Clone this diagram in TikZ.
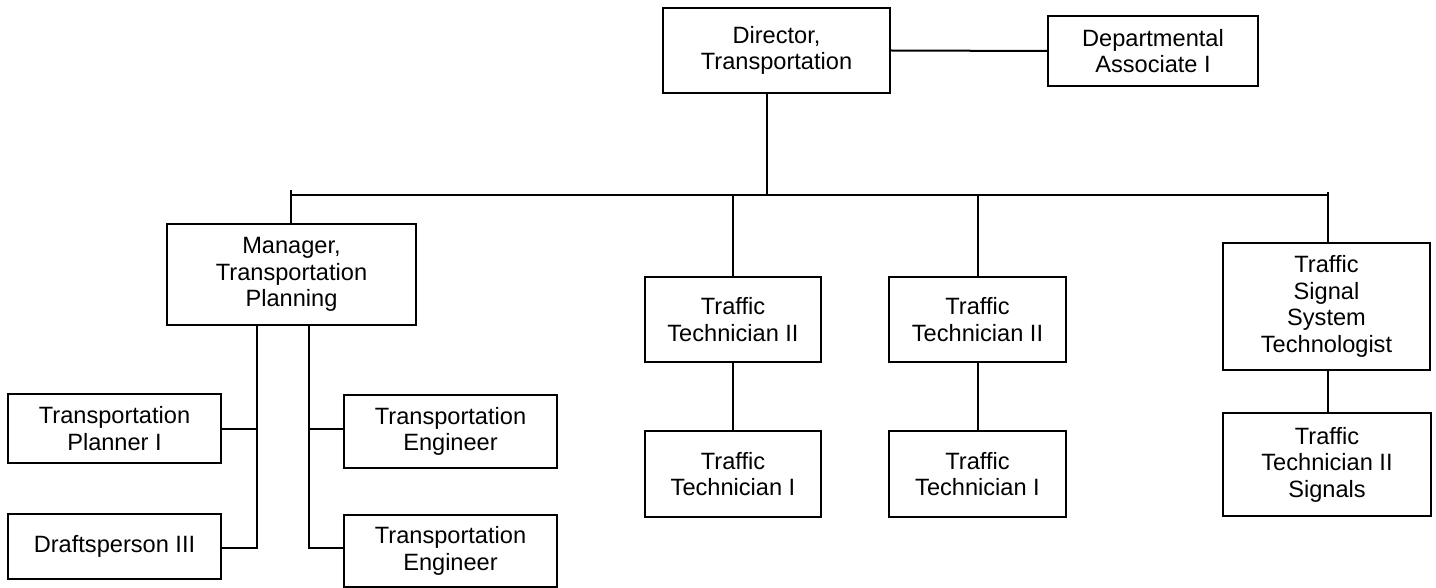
\documentclass[tikz,border=0pt]{standalone}
\usepackage{fontspec}
\setmainfont{Liberation Sans}
\begin{document}
\begin{tikzpicture}[x=0.5pt,y=-0.5pt,
  box/.style={draw=black, line width=1pt, fill=white, align=center, inner sep=0pt,
    font=\fontsize{11.8}{13.3}\selectfont},
  link/.style={draw=black, line width=1pt}]
\useasboundingbox[fill=white] (0,0) rectangle (1436,588);
% boxes
\node[box, minimum width=113.5pt, minimum height=42.5pt] (dir) at (776.5,50.5) {Director,\\Transportation};
\node[box, minimum width=105pt, minimum height=35pt] (dept) at (1153,51) {Departmental\\Associate I};
\node[box, minimum width=124.5pt, minimum height=50.5pt] (mgr) at (291.5,274.5) {Manager,\\Transportation\\Planning};
\node[box, minimum width=88pt, minimum height=42.5pt] (tt2a) at (733,319.5) {Traffic\\Technician II};
\node[box, minimum width=88.5pt, minimum height=42.5pt] (tt2b) at (977.5,319.5) {Traffic\\Technician II};
\node[box, minimum width=88pt, minimum height=43pt] (tt1a) at (733,474) {Traffic\\Technician I};
\node[box, minimum width=88.5pt, minimum height=43pt] (tt1b) at (977.5,474) {Traffic\\Technician I};
\node[box, minimum width=103.5pt, minimum height=63.5pt] (tsst) at (1326.5,306.5) {Traffic\\Signal\\System\\Technologist};
\node[box, minimum width=104pt, minimum height=51.5pt] (tt2s) at (1327,464.5) {Traffic\\Technician II\\Signals};
\node[box, minimum width=106.5pt, minimum height=34.5pt] (plan) at (114.5,428.5) {Transportation\\Planner I};
\node[box, minimum width=106.5pt, minimum height=32.5pt] (draft) at (114.5,546.5) {\raisebox{3pt}{Draftsperson III}};
\node[box, minimum width=106.5pt, minimum height=36.5pt] (eng1) at (450.5,431.5) {Transportation\\Engineer};
\node[box, minimum width=106.5pt, minimum height=36pt] (eng2) at (450.5,551) {Transportation\\Engineer};
% helper coordinates
\coordinate (tickL) at (291,190);
\coordinate (busL) at (291,195);
\coordinate (busR) at (1328,195);
\coordinate (tickR) at (1328,192);
\coordinate (dirdrop) at (767,195);
\coordinate (mL) at (257,548);
\coordinate (mR) at (309,548);
% connectors
\draw[link] (dir.east) -- (dept.west);
\draw[link] (dir.south -| dirdrop) -- (dirdrop);
\draw[link] (tickL) -- (busL) -- (busR) -- (tickR);
\draw[link] (busL) -- (mgr.north -| busL);
\draw[link] (tt2a.north) -- (tt2a.north |- busL);
\draw[link] (tt2b.north) -- (tt2b.north |- busL);
\draw[link] (busR) -- (tsst.north -| busR);
\draw[link] (tt2a) -- (tt1a);
\draw[link] (tt2b) -- (tt1b);
\draw[link] (tsst.south -| busR) -- (tt2s.north -| busR);
\draw[link] (mgr.south -| mL) -- (mL) -- (draft.east |- mL);
\draw[link] (plan.east) -- (plan.east -| mL);
\draw[link] (mgr.south -| mR) -- (mR) -- (eng2.west |- mR);
\draw[link] (eng1.west |- plan.east) -- (plan.east -| mR);
\end{tikzpicture}
\end{document}
